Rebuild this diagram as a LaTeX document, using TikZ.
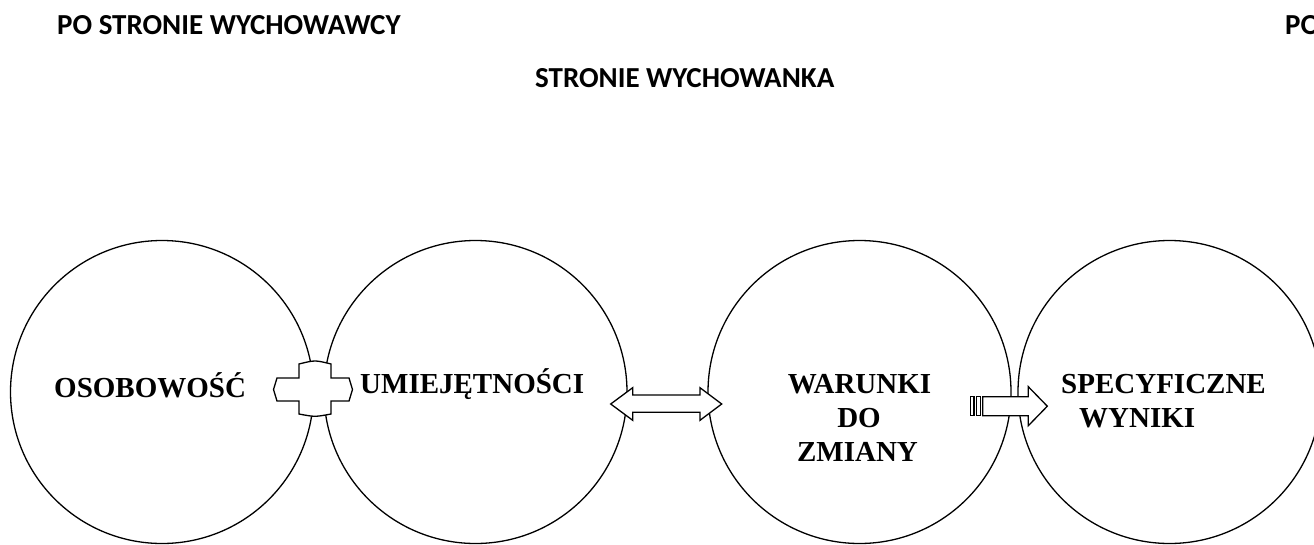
\documentclass[tikz,border=0pt]{standalone}
\usepackage{fontspec}
\setmainfont{Liberation Serif}
\newfontfamily\titlefont{Carlito}
\begin{document}
\begin{tikzpicture}[x=1pt,y=-1pt,
  ring/.style={draw,circle,line width=1.3pt,minimum size=303pt,inner sep=0pt},
  blockshape/.style={draw,fill=white,line width=1.3pt,line join=miter},
  head/.style={font=\titlefont\bfseries\fontsize{29}{34}\selectfont,inner sep=0pt,anchor=base west},
  lbl/.style={font=\bfseries\fontsize{29}{34}\selectfont,inner sep=0pt},
]
\useasboundingbox (0,0) rectangle (1314,544);
\clip (0,0) rectangle (1314,544);
\fill[white] (0,0) rectangle (1314,544);

% headings
\node[head] (h1) at (57,34) {PO STRONIE WYCHOWAWCY};
\node[head] (h2) at (535,87) {STRONIE WYCHOWANKA};
\node[head] (h3) at (1285,34) {PO};

% circles
\node[ring] (c1) at (162,392) {};
\node[ring] (c2) at (475.5,392) {};
\node[ring] (c3) at (859.5,392) {};
\node[ring] (c4) at (1169.5,392) {};

% plus sign between c1 and c2
\path[blockshape] (299,378) -- (299,364) .. controls (315,360) .. (331,364) -- (331,378)
  -- (349,378) -- (352.5,389.5) -- (349,401) -- (331,401) -- (331,414)
  .. controls (315,417) .. (299,414) -- (299,401) -- (277,401) -- (273.5,389.5)
  -- (277,378) -- cycle;

% double arrow between c2 and c3
\path[blockshape] (610.7,404) -- (632.7,387.7) -- (632.7,395) -- (700,395) -- (700,387.7)
  -- (721.7,404) -- (700,420.3) -- (700,412.3) -- (632.7,412.3) -- (632.7,420.3) -- cycle;

% striped arrow between c3 and c4
\path[blockshape,line width=1.1pt] (970.5,396.7) rectangle (974,415.7);
\path[blockshape,line width=1.1pt] (976.2,396.7) rectangle (980.5,415.7);
\path[blockshape] (982.7,396.7) -- (1028.3,396.7) -- (1028.3,386.7) -- (1047.3,406.2)
  -- (1028.3,425.7) -- (1028.3,415.7) -- (982.7,415.7) -- cycle;

% texts
\node[lbl,anchor=base west] (t1) at (54,397) {OSOBOWOŚĆ};
\begin{scope}
\clip (350,340) rectangle (584.5,420);
\node[lbl,anchor=base west] (t2) at (360,393) {UMIEJĘTNOŚCI};
\end{scope}
\node[lbl,anchor=base] (t3a) at (859.5,393) {WARUNKI};
\node[lbl,anchor=base] (t3b) at (859,427) {DO};
\node[lbl,anchor=base] (t3c) at (857.5,461) {ZMIANY};
\node[lbl,anchor=base west] (t4a) at (1061,393) {SPECYFICZNE};
\node[lbl,anchor=base west] (t4b) at (1079,427) {WYNIKI};
\end{tikzpicture}
\end{document}
